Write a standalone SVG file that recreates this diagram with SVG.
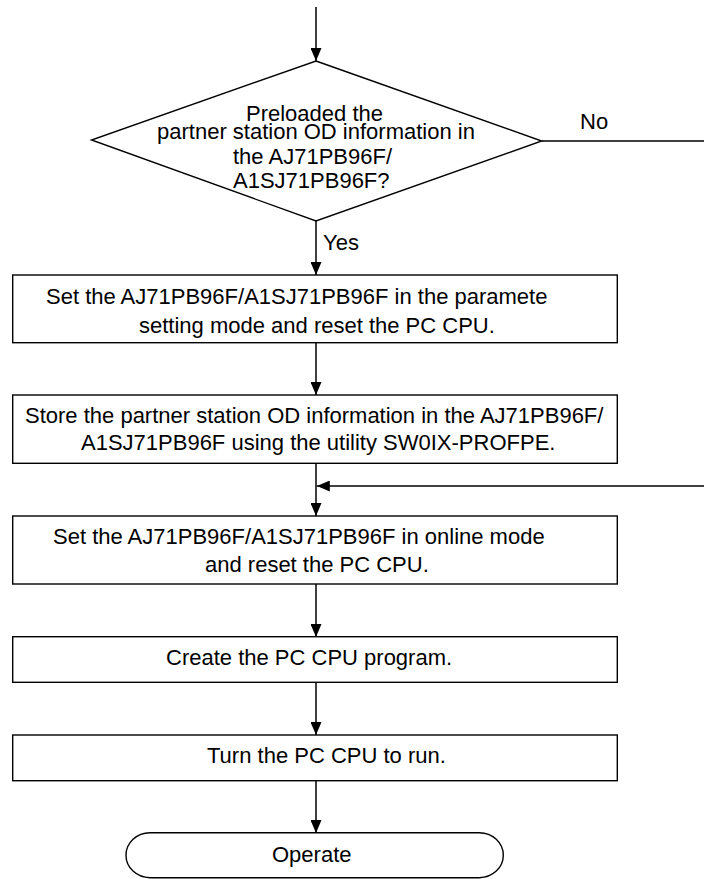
<svg xmlns="http://www.w3.org/2000/svg" width="704" height="879" viewBox="0 0 704 879">
<style>
.shape{fill:#fff;stroke:#000;stroke-width:1.4}
.conn{fill:none;stroke:#000;stroke-width:1.5}
text{font-family:"Liberation Sans",Arial,sans-serif;font-size:22px;fill:#000}
</style>
<defs>
<marker id="ah" markerUnits="userSpaceOnUse" markerWidth="13" markerHeight="11" refX="13" refY="5.5" orient="auto">
<path d="M0,0 L13,5.5 L0,11 z" fill="#000"/>
</marker>
</defs>
<rect width="704" height="879" fill="#fff"/>
<g id="connectors">
<line class="conn" x1="316" y1="7" x2="316" y2="61" marker-end="url(#ah)"/>
<line class="conn" x1="316" y1="221" x2="316" y2="275" marker-end="url(#ah)"/>
<line class="conn" x1="316" y1="343" x2="316" y2="395" marker-end="url(#ah)"/>
<line class="conn" x1="316" y1="463" x2="316" y2="516" marker-end="url(#ah)"/>
<line class="conn" x1="541.7" y1="141" x2="704" y2="141"/>
<line class="conn" x1="704" y1="486" x2="316.8" y2="486" marker-end="url(#ah)"/>
<line class="conn" x1="316" y1="584" x2="316" y2="637" marker-end="url(#ah)"/>
<line class="conn" x1="316" y1="682" x2="316" y2="735" marker-end="url(#ah)"/>
<line class="conn" x1="316" y1="781" x2="316" y2="833" marker-end="url(#ah)"/>
<text x="580" y="129">No</text>
<text x="323" y="250">Yes</text>
</g>
<g id="decision">
<polygon class="shape" points="316,61 541.7,141 316,221 91.5,140"/>
<text x="246" y="121">Preloaded the</text>
<text x="157" y="139">partner station OD information in</text>
<text x="233" y="164">the AJ71PB96F/</text>
<text x="233" y="188">A1SJ71PB96F?</text>
</g>
<g id="step1">
<rect class="shape" x="12.7" y="275" width="604.6" height="67.7"/>
<text x="46" y="304">Set the AJ71PB96F/A1SJ71PB96F in the paramete</text>
<text x="139" y="333">setting mode and reset the PC CPU.</text>
</g>
<g id="step2">
<rect class="shape" x="12.7" y="395" width="604.6" height="68.3"/>
<text x="25" y="423">Store the partner station OD information in the AJ71PB96F/</text>
<text x="81" y="450">A1SJ71PB96F using the utility SW0IX-PROFPE.</text>
</g>
<g id="step3">
<rect class="shape" x="12.7" y="516" width="604.6" height="68"/>
<text x="53" y="544">Set the AJ71PB96F/A1SJ71PB96F in online mode</text>
<text x="205" y="572">and reset the PC CPU.</text>
</g>
<g id="step4">
<rect class="shape" x="12.7" y="636.7" width="604.6" height="45.6"/>
<text x="166" y="665">Create the PC CPU program.</text>
</g>
<g id="step5">
<rect class="shape" x="12.7" y="735" width="604.6" height="45.7"/>
<text x="207" y="763">Turn the PC CPU to run.</text>
</g>
<g id="terminal">
<rect class="shape" x="126" y="832.7" width="377.3" height="45" rx="24" ry="22.5"/>
<text x="272" y="862">Operate</text>
</g>
</svg>
